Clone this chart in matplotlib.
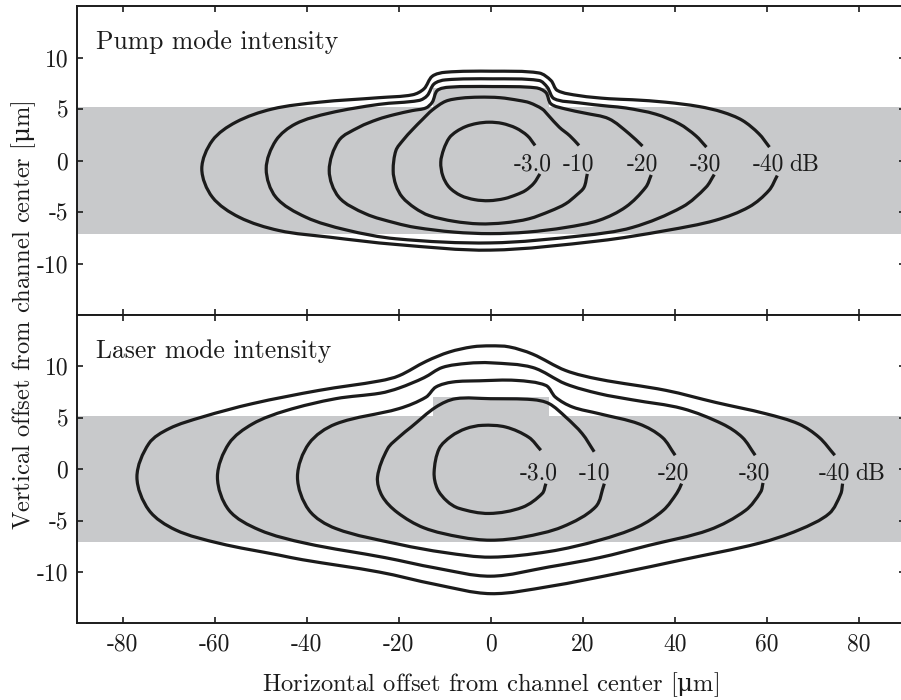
import numpy as np
import matplotlib
matplotlib.use("Agg")
import matplotlib.pyplot as plt
from matplotlib.patches import Rectangle, PathPatch
from matplotlib.path import Path

plt.rcParams['font.family'] = ['cmr10', 'DejaVu Serif']
plt.rcParams['axes.unicode_minus'] = False
# the micro sign is not in cmr10, take it upright from DejaVu Serif via mathtext
plt.rcParams['mathtext.fontset'] = 'custom'
plt.rcParams['mathtext.rm'] = 'DejaVu Serif'

# contour levels and their labels
levels = ["-3.0", "-10", "-20", "-30", "-40"]
unit = "dB"

x_ticks = [-80, -60, -40, -20, 0, 20, 40, 60, 80]
x_tick_labels = ["-80", "-60", "-40", "-20", "0", "20", "40", "60", "80"]
y_ticks = [-10, -5, 0, 5, 10]
y_tick_labels = ["-10", "-5", "0", "5", "10"]

# channel cross-section (grey): slab and the ridge on top of it
slab_bottom = -7.1
slab_top = 5.15
ridge_half_width = 12.6
ridge_top = 7.0

# --- pump mode contours (x, y in um), from upper end round to lower end
pump_m3_x = [9.65, 8.0, 5.5, 2.5, -0.35, -3.0, -5.4, -7.5, -9.0, -10.2, -10.85, -10.4, -9.0, -6.5, -3.5, -0.35, 3.0, 5.7, 7.6, 9.4, 10.7]
pump_m3_y = [1.46, 2.4, 3.15, 3.6, 3.72, 3.6, 3.3, 2.8, 2.2, 1.1, -0.16, -1.5, -2.6, -3.4, -3.8, -3.9, -3.7, -3.3, -2.9, -2.2, -1.3]

pump_m10_x = [19.2, 17.2, 14.9, 12.5, 11.2, 8.5, 6.2, 2.0, -2.5, -6.5, -9.8, -12.7, -14.8, -17.0, -19.0, -20.6, -21.2, -20.6, -19.2, -16.5, -13.4, -8.0, -2.5, 3.0, 8.3, 13.0, 16.3, 18.8, 20.3, 21.0]
pump_m10_y = [1.46, 2.4, 3.24, 4.4, 5.0, 5.6, 5.83, 6.1, 6.15, 6.05, 5.75, 4.9, 4.0, 3.0, 2.0, 0.97, -0.97, -2.4, -3.56, -4.6, -5.34, -5.9, -6.15, -6.05, -5.66, -4.9, -4.2, -3.3, -2.6, -1.3]

pump_m20_x = [33.0, 30.1, 25.7, 20.5, 16.3, 13.1, 12.0, 9.8, 0.4, -9.0, -11.6, -12.7, -14.1, -17.0, -21.0, -24.5, -28.6, -33.0, -35.1, -33.0, -27.2, -20.6, -16.3, -8.0, 0.0, 8.0, 16.3, 23.6, 29.4, 33.7, 34.9]
pump_m20_y = [1.4, 2.6, 4.05, 4.6, 5.0, 5.5, 6.6, 7.06, 7.18, 7.12, 6.8, 5.66, 5.1, 4.85, 4.45, 4.0, 3.24, 1.94, -0.97, -3.56, -5.17, -6.08, -6.5, -6.95, -7.1, -6.95, -6.5, -5.8, -4.5, -2.6, -1.4]

pump_m30_x = [46.9, 44.6, 41.0, 35.9, 29.4, 25.7, 19.2, 13.8, 12.3, 10.5, 0.4, -9.8, -12.3, -13.8, -15.6, -24.3, -35.1, -42.4, -46.7, -48.8, -46.7, -40.2, -31.5, -20.6, 0.0, 19.9, 30.8, 41.7, 46.8, 48.6]
pump_m30_y = [1.3, 2.4, 3.56, 4.5, 5.1, 5.27, 5.6, 6.0, 7.12, 7.77, 7.93, 7.83, 7.44, 6.3, 5.83, 5.45, 4.6, 3.56, 1.94, -0.81, -3.56, -5.5, -6.73, -7.6, -8.0, -7.3, -6.5, -4.5, -2.6, -1.36]

pump_m40_x = [60.6, 58.3, 54.7, 50.4, 45.3, 38.1, 30.8, 25.7, 19.2, 14.5, 13.1, 10.5, 0.4, -9.8, -12.7, -14.5, -17.0, -24.3, -37.3, -47.5, -55.4, -60.5, -62.8, -60.5, -54.7, -46.0, -35.1, -20.6, 0.0, 23.6, 38.1, 48.9, 56.2, 60.5, 62.3]
pump_m40_y = [1.3, 2.6, 3.9, 4.7, 5.24, 5.66, 5.9, 6.0, 6.3, 6.8, 7.77, 8.5, 8.67, 8.57, 8.18, 6.96, 6.38, 6.1, 5.66, 5.0, 3.72, 1.94, -0.8, -3.56, -5.5, -6.8, -7.44, -8.15, -8.7, -7.8, -6.8, -5.8, -4.5, -2.9, -1.46]

# --- laser mode contours
laser_m3_x = [10.9, 8.3, 3.3, -1.8, -5.4, -8.6, -11.2, -12.3, -11.6, -9.5, -6.9, -0.35, 6.9, 11.2, 12.0]
laser_m3_y = [1.85, 3.1, 4.1, 4.27, 3.95, 3.2, 2.0, -0.3, -1.9, -3.1, -3.8, -4.3, -3.7, -2.36, -1.4]

laser_m10_x = [22.5, 19.9, 16.3, 12.7, 9.1, 0.0, -7.6, -11.9, -17.3, -19.9, -22.4, -24.6, -23.6, -20.3, -14.5, -6.5, 0.0, 7.0, 15.6, 22.8, 24.7]
laser_m10_y = [1.7, 3.46, 5.08, 6.38, 6.77, 6.86, 6.86, 6.05, 4.1, 3.14, 2.0, -0.75, -2.6, -4.2, -5.7, -6.6, -6.9, -6.6, -5.6, -3.66, -1.4]

laser_m20_x = [40.1, 37.3, 32.3, 23.6, 17.8, 14.1, 12.0, 5.5, -2.5, -8.3, -11.9, -14.1, -19.9, -33.7, -39.5, -42.0, -39.5, -33.7, -19.9, -10.0, 0.0, 12.7, 23.6, 32.0, 37.5, 40.5, 41.5]
laser_m20_y = [1.36, 3.1, 4.4, 5.4, 6.05, 7.0, 8.15, 8.64, 8.6, 8.48, 8.0, 7.0, 5.9, 4.4, 2.5, -0.75, -3.98, -5.76, -7.3, -8.1, -8.55, -8.0, -6.9, -5.6, -4.0, -2.3, -1.4]

laser_m30_x = [57.5, 54.7, 50.4, 41.7, 30.8, 23.6, 16.3, 9.1, 0.0, -5.0, -10.5, -14.5, -19.9, -24.0, -33.7, -44.5, -51.8, -56.9, -59.4, -56.9, -50.3, -40.2, -22.9, -12.0, 0.0, 12.7, 23.6, 34.4, 47.5, 55.4, 58.7, 59.2]
laser_m30_y = [1.36, 3.1, 4.4, 5.9, 6.75, 7.35, 8.3, 9.9, 10.35, 10.3, 9.9, 8.9, 7.9, 7.4, 6.86, 5.7, 4.4, 2.5, -0.75, -3.98, -5.9, -7.2, -8.6, -9.6, -10.4, -9.5, -8.6, -7.4, -5.9, -4.0, -2.2, -1.33]

laser_m40_x = [74.8, 71.4, 67.0, 59.8, 48.9, 38.1, 23.6, 16.3, 9.1, 4.0, 0.0, -4.0, -9.0, -14.0, -19.9, -24.0, -37.3, -51.8, -62.7, -69.9, -74.3, -76.9, -74.3, -68.5, -59.0, -46.0, -40.9, -24.2, -12.0, 0.0, 12.7, 27.9, 41.7, 58.3, 67.0, 73.6, 76.1, 76.5]
laser_m40_y = [1.36, 3.1, 4.4, 5.4, 6.5, 7.67, 8.75, 9.6, 11.2, 11.9, 12.0, 11.9, 11.4, 10.5, 9.1, 8.6, 7.67, 6.38, 5.08, 3.95, 2.5, -0.75, -3.98, -5.9, -7.2, -8.35, -8.8, -10.0, -11.2, -12.1, -11.4, -10.1, -8.8, -7.2, -5.9, -4.3, -2.4, -1.4]

pump_contours = [(pump_m3_x, pump_m3_y), (pump_m10_x, pump_m10_y), (pump_m20_x, pump_m20_y),
                 (pump_m30_x, pump_m30_y), (pump_m40_x, pump_m40_y)]
laser_contours = [(laser_m3_x, laser_m3_y), (laser_m10_x, laser_m10_y), (laser_m20_x, laser_m20_y),
                  (laser_m30_x, laser_m30_y), (laser_m40_x, laser_m40_y)]

grey = "#c8c9cb"
ink = "#1b1b1b"
fs = 17


def smooth_path(xs, ys, yscale=2.24):
    """Bezier path going through the read points (tangents from the neighbours),
    distances measured with y stretched like on screen."""
    p = np.column_stack([xs, ys]).astype(float)
    q = p * [1.0, yscale]
    d = np.hypot(*np.diff(q, axis=0).T)
    t = np.zeros_like(p)
    t[0] = (p[1] - p[0]) / d[0]
    t[-1] = (p[-1] - p[-2]) / d[-1]
    t[1:-1] = (p[2:] - p[:-2]) / (d[:-1] + d[1:])[:, None]
    verts = [p[0]]
    codes = [Path.MOVETO]
    for i in range(len(p) - 1):
        verts += [p[i] + t[i] * d[i] / 3, p[i + 1] - t[i + 1] * d[i] / 3, p[i + 1]]
        codes += [Path.CURVE4] * 3
    return Path(verts, codes)


fig = plt.figure(figsize=(9.01, 7.0), dpi=100)
ax_top = fig.add_axes([0.0851, 0.55, 0.919, 0.4414])
ax_bot = fig.add_axes([0.0851, 0.1093, 0.919, 0.4407])


def draw_panel(ax, contours, title):
    # channel
    ax.axhspan(slab_bottom, slab_top, color=grey, lw=0, zorder=0)
    ax.add_patch(Rectangle((-ridge_half_width, slab_top - 0.05), 2 * ridge_half_width,
                           ridge_top - slab_top + 0.05, color=grey, lw=0, zorder=0))
    # contour lines + labels in the gap at the right
    for (cx, cy), lab in zip(contours, levels):
        ax.add_patch(PathPatch(smooth_path(cx, cy), fill=False, edgecolor=ink, lw=2.3,
                               capstyle="butt", joinstyle="round", zorder=2))
        lx = 0.5 * (cx[0] + cx[-1]) - 1.0
        ax.text(lx, -1.0, lab, ha="center", va="baseline", fontsize=fs, color=ink, zorder=3)
        if lab == levels[-1]:
            ax.annotate(unit, xy=(lx, -1.0), xytext=(15, 0), textcoords="offset points",
                        ha="left", va="baseline", fontsize=fs, color=ink)
    ax.text(-85.7, 10.8, title, ha="left", va="baseline", fontsize=18.5, color=ink)

    ax.set_xlim(-90, 90)
    ax.set_ylim(-15, 15)
    ax.set_xticks(x_ticks, x_tick_labels)
    ax.set_yticks(y_ticks, y_tick_labels)
    ax.tick_params(direction="in", top=True, right=True, length=4, width=1.2,
                   labelsize=fs, colors=ink, pad=6)
    for s in ax.spines.values():
        s.set_linewidth(1.4)
        s.set_color(ink)


draw_panel(ax_top, pump_contours, "Pump mode intensity")
draw_panel(ax_bot, laser_contours, "Laser mode intensity")
ax_top.tick_params(labelbottom=False)
ax_bot.tick_params(axis="x", pad=7)

fig.text(0.5446, 0.012, r"Horizontal offset from channel center [$\mathrm{\mu}$m]", ha="center",
         va="baseline", fontsize=17.7, color=ink)
fig.text(0.026, 0.55, r"Vertical offset from channel center [$\mathrm{\mu}$m]", ha="center",
         va="center", rotation=90, fontsize=17.7, color=ink)

fig.savefig("out.png", dpi=100)
